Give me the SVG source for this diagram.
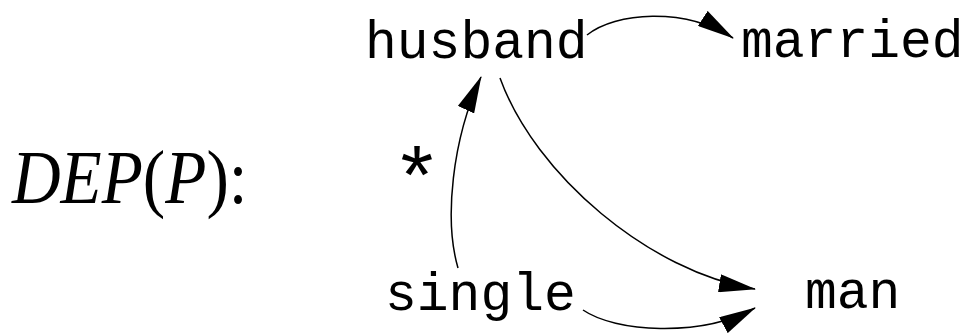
<svg xmlns="http://www.w3.org/2000/svg" width="975" height="333" viewBox="0 0 975 333">
<style>
.node{font-family:"Liberation Mono","Courier New",monospace;font-size:53px;fill:#000}
.edge{fill:none;stroke:#000;stroke-width:1.5;marker-end:url(#ah)}
.math{font-family:"Liberation Serif","Times New Roman",serif;font-size:68px;fill:#000}
.it{font-style:italic}
</style>
<defs>
<marker id="ah" markerUnits="userSpaceOnUse" markerWidth="37" markerHeight="18" viewBox="0 0 37 18" refX="36" refY="9" orient="auto">
<path d="M0,0 L37,9 L0,18 Z" fill="#000"/>
</marker>
</defs>
<rect width="975" height="333" fill="#fff"/>
<g id="label">
<text class="math" transform="translate(12,203) scale(0.99,1.12)" x="0" y="0"><tspan class="it">DEP</tspan>(<tspan class="it">P</tspan>):</text>
</g>
<g id="husband"><text class="node" x="365" y="58">husband</text></g>
<g id="married"><text class="node" x="741" y="57">married</text></g>
<g id="single"><text class="node" x="385" y="310">single</text></g>
<g id="man"><text class="node" x="805" y="308">man</text></g>
<g id="connectors">
<path class="edge" d="M587,35 C615,12 685,7 733,38"/>
<path class="edge" d="M458,268 C444,220 452,140 481,77"/>
<path class="edge" d="M500,78 C535,175 650,272 755,289"/>
<path class="edge" d="M583,310 C615,332 700,338 755,308"/>
<text class="node" x="417" y="207" text-anchor="middle" style="font-size:84px">*</text>
</g>
</svg>
